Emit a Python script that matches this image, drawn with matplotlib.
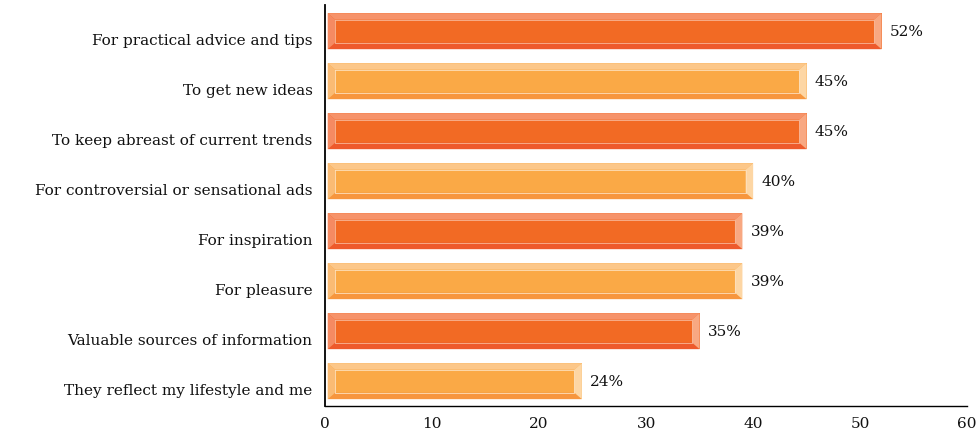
import matplotlib
matplotlib.use('Agg')
import matplotlib.pyplot as plt
import matplotlib.transforms as mtransforms

# Survey answers, top to bottom
categories = [
    'For practical advice and tips',
    'To get new ideas',
    'To keep abreast of current trends',
    'For controversial or sensational ads',
    'For inspiration',
    'For pleasure',
    'Valuable sources of information',
    'They reflect my lifestyle and me',
]
values = [52, 45, 45, 40, 39, 39, 35, 24]
x_ticks = [0, 10, 20, 30, 40, 50, 60]

# colour sets for alternating bars: face, top, bottom, left, right bevel
dark = {'face': '#f26a24', 'top': '#f6936a', 'bottom': '#ee5a2c',
        'left': '#f58a62', 'right': '#f8a882', 'edge': '#f9b797'}
light = {'face': '#faa946', 'top': '#fcc789', 'bottom': '#f7963e',
         'left': '#fabb74', 'right': '#fdd6a4', 'edge': '#fde0bc'}

BAR_H = 0.72
BAR_X0 = 0.25  # small gap between the axis line and the bars
BEV_X = 0.7    # bevel width in data units
BEV_Y = 0.13


def bevel_bar(ax, y, w, c):
    t, b = y - BAR_H / 2, y + BAR_H / 2
    l, r = BAR_X0, w
    ax.fill([l, r, r, l], [t, t, b, b], color=c['face'], lw=0, zorder=2)
    ax.fill([l, r, r - BEV_X, l + BEV_X], [t, t, t + BEV_Y, t + BEV_Y],
            color=c['top'], lw=0, zorder=3)
    ax.fill([l, r, r - BEV_X, l + BEV_X], [b, b, b - BEV_Y, b - BEV_Y],
            color=c['bottom'], lw=0, zorder=3)
    ax.fill([l, l + BEV_X, l + BEV_X, l], [t, t + BEV_Y, b - BEV_Y, b],
            color=c['left'], lw=0, zorder=3)
    ax.fill([r, r - BEV_X, r - BEV_X, r], [t, t + BEV_Y, b - BEV_Y, b],
            color=c['right'], lw=0, zorder=3)
    # thin highlight around the inner face
    ax.plot([l + BEV_X, r - BEV_X, r - BEV_X, l + BEV_X, l + BEV_X],
            [t + BEV_Y, t + BEV_Y, b - BEV_Y, b - BEV_Y, t + BEV_Y],
            color=c['edge'], lw=0.6, zorder=4)


plt.rcParams['font.family'] = 'DejaVu Serif'
fig = plt.figure(figsize=(9.76, 4.33), dpi=100)
ax = fig.add_axes([0.333, 0.062, 0.658, 0.926])

for i, (cat, v) in enumerate(zip(categories, values)):
    bevel_bar(ax, i, v, dark if i % 2 == 0 else light)
    ax.text(v + 0.75, i + 0.02, f'{v}%', va='center', ha='left',
            fontsize=11, color='#111111')

ax.set_xlim(0, 60)
ax.set_ylim(len(categories) - 0.5, -0.52)
ax.set_xticks(x_ticks)
ax.set_yticks(range(len(categories)))
ax.set_yticklabels(categories)
ax.tick_params(axis='both', length=0, colors='#111111')
ax.tick_params(axis='y', pad=9, labelsize=11)
ax.tick_params(axis='x', pad=8, labelsize=11)

# category labels sit a little below the bar centres
shift = mtransforms.ScaledTranslation(0, -6 / 72, fig.dpi_scale_trans)
for lab in ax.get_yticklabels():
    lab.set_transform(lab.get_transform() + shift)

for s in ['top', 'right']:
    ax.spines[s].set_visible(False)
ax.spines['left'].set_linewidth(1.3)
ax.spines['bottom'].set_linewidth(1.0)
ax.spines['left'].set_zorder(5)

plt.savefig('out.png', dpi=100)
